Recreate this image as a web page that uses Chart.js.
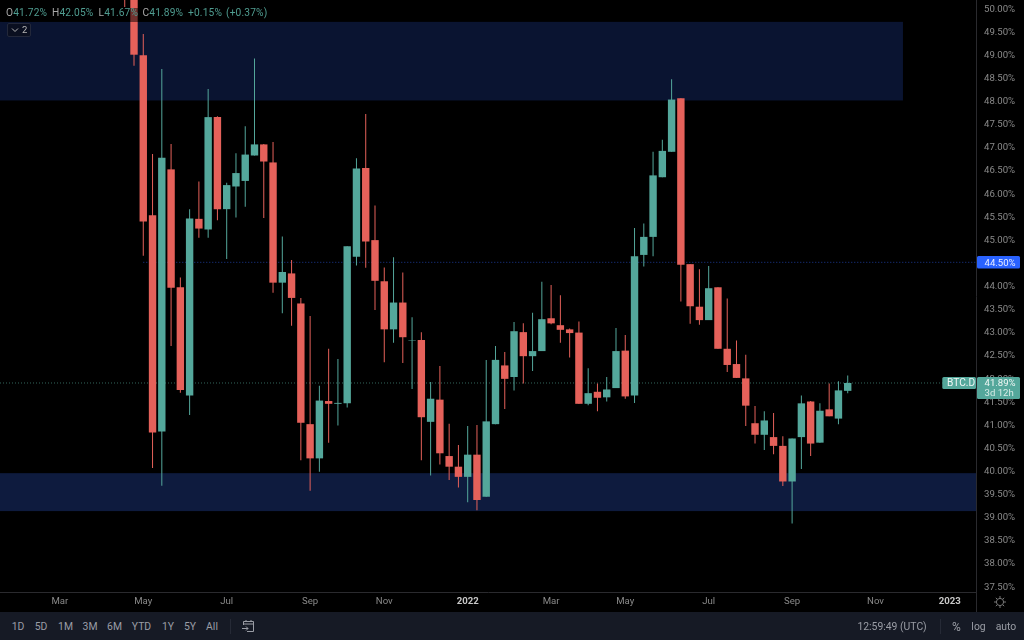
<!DOCTYPE html>
<html>
<head>
<meta charset="utf-8">
<script src="https://cdn.jsdelivr.net/npm/chart.js@4"></script>
<style>
html,body{margin:0;padding:0;background:#000;width:1024px;height:640px;overflow:hidden;font-family:Roboto,sans-serif}
#wrap{position:relative;width:1024px;height:640px}
canvas{position:absolute;left:0;top:0}
.t{position:absolute;white-space:nowrap;line-height:14px}
#legend{position:absolute;left:2px;top:8px;width:268px;height:14px;background:rgba(0,0,0,.5)}
#legend .t{top:-2px;font-size:10.2px;color:#4f9c90;letter-spacing:.15px}
#legend b{font-weight:400;color:#a8a8a8}
#btn{position:absolute;left:7px;top:23px;width:22px;height:12px;border:1px solid #23283a;border-radius:2px;background:#0a0f20;color:#b4b4b4;font-size:9.5px;line-height:12px}
#bar{position:absolute;left:0;top:612px;width:1024px;height:28px;background:#161a25;color:#9a9da5;font-size:10.4px}
#bar .t{top:8px;transform:translateX(-50%)}
.sep{position:absolute;width:1px;background:#262a36}
#vline{position:absolute;left:976px;top:592px;width:1px;height:20px;background:#2a2a2e}
</style>
</head>
<body>
<div id="wrap">
<canvas id="c" width="1024" height="612"></canvas>
<div id="legend">
<span class="t" style="left:4px"><b>O</b>41.72%</span>
<span class="t" style="left:50px"><b>H</b>42.05%</span>
<span class="t" style="left:96.5px"><b>L</b>41.67%</span>
<span class="t" style="left:140.5px"><b>C</b>41.89%</span>
<span class="t" style="left:186px">+0.15%</span>
<span class="t" style="left:224px">(+0.37%)</span>
</div>
<div id="btn"><svg width="8" height="6" style="position:absolute;left:3px;top:3px"><path d="M1 1.5L4 4.5L7 1.5" fill="none" stroke="#b4b4b4" stroke-width="1"/></svg><span style="position:absolute;left:14px;top:0">2</span></div>
<div id="vline"></div>
<svg width="14" height="14" style="position:absolute;left:993px;top:595px"><circle cx="7" cy="7" r="3.6" fill="none" stroke="#777" stroke-width="1"/><path d="M7 1V3M7 11V13M1 7H3M11 7H13M2.8 2.8L4.2 4.2M9.8 9.8L11.2 11.2M2.8 11.2L4.2 9.8M9.8 4.2L11.2 2.8" stroke="#777" stroke-width="1"/></svg>
<div id="bar">
<span class="t" style="left:18px">1D</span>
<span class="t" style="left:41px">5D</span>
<span class="t" style="left:65.5px">1M</span>
<span class="t" style="left:90px">3M</span>
<span class="t" style="left:114.5px">6M</span>
<span class="t" style="left:141.5px">YTD</span>
<span class="t" style="left:168px">1Y</span>
<span class="t" style="left:190px">5Y</span>
<span class="t" style="left:212px">All</span>
<div class="sep" style="left:230px;top:7px;height:15px"></div>
<svg width="14" height="14" style="position:absolute;left:241px;top:7px"><path d="M2.5 6V2.5H12.5V12.5H6M2.5 5H12.5M5 1V3M10 1V3M1 9.5H7M5 7.5L7 9.5L5 11.5" fill="none" stroke="#9a9da5" stroke-width="1"/></svg>
<span class="t" style="left:892px">12:59:49 (UTC)</span>
<div class="sep" style="left:940px;top:7px;height:15px"></div>
<span class="t" style="left:956.5px;font-size:12px">%</span>
<span class="t" style="left:978.5px">log</span>
<span class="t" style="left:1006px">auto</span>
</div>
</div>
<script>
// Weekly BTC dominance candles (percent), oldest first
const highs = [51.5,51.3,49.44,46.84,48.68,47.06,44.17,45.65,46.25,48.25,47.66,46.22,46.86,47.44,48.91,47.06,47.10,45.06,44.55,43.73,43.34,41.83,42.63,42.41,44.85,46.75,47.71,45.73,44.39,44.61,44.28,43.31,42.99,41.91,42.26,41.01,40.55,40.96,40.98,42.39,42.69,42.56,43.21,43.18,43.41,44.08,44.01,43.79,43.07,43.22,42.21,41.88,42.02,43.08,42.93,45.24,45.34,46.89,47.15,48.46,48.05,44.46,44.35,44.42,43.96,43.72,42.81,42.50,41.39,41.28,41.24,40.74,40.69,41.62,41.50,41.45,41.88,41.93,42.05];
const lows = [50.02,48.75,44.64,40.05,39.67,42.69,41.68,41.20,45.03,45.03,45.41,44.57,45.47,45.70,46.81,45.46,43.84,43.40,43.13,40.22,39.56,39.97,40.60,40.97,41.36,44.43,44.38,43.47,42.34,42.76,42.32,41.76,40.22,39.89,40.13,39.79,39.63,39.31,39.14,39.43,41.00,41.33,41.73,41.88,42.15,42.58,43.16,42.76,42.44,41.44,41.41,41.28,41.49,41.78,41.55,41.46,44.41,44.63,46.34,46.89,43.65,43.17,43.15,43.25,42.63,42.13,42.00,40.96,40.58,40.44,40.35,39.66,38.85,40.03,40.31,40.60,41.17,41.00,41.67];
const opens = [51.2,50.9,48.98,45.52,40.84,46.51,43.96,41.62,45.44,45.21,47.64,45.65,46.14,46.26,46.81,47.05,46.66,44.06,44.26,43.61,41.00,40.26,41.50,41.44,41.45,44.62,46.54,44.98,44.09,43.05,43.63,42.80,42.82,41.05,41.53,40.31,40.08,39.86,40.34,39.43,41.00,42.27,42.02,42.99,42.47,42.58,43.29,43.14,43.05,42.98,41.44,41.70,41.58,41.78,42.59,41.62,44.66,45.05,46.34,46.89,48.05,44.46,43.54,43.25,43.96,42.63,42.30,41.99,41.02,40.77,40.72,40.53,39.76,40.72,41.49,40.60,41.32,41.12,41.72];
const closes = [50.3,48.99,45.38,40.82,46.76,43.95,41.74,45.45,45.23,47.64,45.65,46.17,46.43,46.83,47.05,46.68,44.06,44.29,43.73,41.03,40.26,41.51,41.44,41.46,44.85,46.53,44.95,44.10,43.05,43.63,42.88,42.81,41.15,41.55,40.37,40.08,39.86,40.34,39.36,41.06,42.39,41.98,43.01,42.47,42.58,43.27,43.18,43.04,42.97,41.44,41.67,41.57,41.75,42.58,41.60,44.63,45.05,46.38,46.91,48.02,44.45,43.55,43.25,43.94,42.63,42.28,42.00,41.40,40.77,41.08,40.53,39.76,40.69,41.45,40.58,41.29,41.17,41.73,41.89];
const tickLabels = ['Mar','May','Jul','Sep','Nov','2022','Mar','May','Jul','Sep','Nov','2023'];
const tickWeeks = [-7,2,11,20,28,37,46,54,63,72,81,89];
const zoneLows = [48.0,39.12];
const zoneHighs = [49.7,39.94];
const zoneEnds = [83.96,91.84];
const zoneColors = ['#0a1431','#0e1b3e'];
const supportLevel = 44.5;
const supportFrom = 2;
const lastPrice = 41.89;
const xMin = -13.457, xMax = 91.84, yMin = 37.37, yMax = 50.173;

const UP = '#54a79b', DOWN = '#e5615a';
const colors = closes.map((c,i)=> c>=opens[i] ? UP : DOWN);
const bodies = closes.map((c,i)=>({x:i,y:[opens[i],c]}));
const wicks = highs.map((h,i)=>({x:i,y:[lows[i],h]}));

const zonePlugin = {
  id:'zones',
  beforeDatasetsDraw(chart){
    const {ctx,scales:{x,y},chartArea:a}=chart;
    ctx.save();
    zoneLows.forEach((lo,i)=>{
      const top=y.getPixelForValue(zoneHighs[i]), bot=y.getPixelForValue(lo);
      const right=x.getPixelForValue(zoneEnds[i]);
      ctx.fillStyle=zoneColors[i];
      ctx.fillRect(a.left,top,right-a.left,bot-top);
    });
    ctx.restore();
  }
};
const tagPlugin = {
  id:'tags',
  afterDraw(chart){
    const {ctx,scales:{y}}=chart;
    const tag=(x,yy,w,h,col)=>{ctx.fillStyle=col;ctx.beginPath();ctx.roundRect(x,yy,w,h,1.5);ctx.fill();};
    const ys=y.getPixelForValue(supportLevel), yp=y.getPixelForValue(lastPrice);
    ctx.save();
    ctx.textBaseline='middle';
    ctx.font='9.6px Roboto';
    tag(977,ys-6.3,43,12.6,'#2962ff');
    ctx.fillStyle='#e8ecff';ctx.textAlign='left';
    ctx.fillText(supportLevel.toFixed(2)+'%',984.5,ys+.8);
    tag(977,yp-6,43,22,UP);
    tag(942.3,yp-6,33.7,12,UP);
    ctx.fillStyle='#f0f7f5';
    ctx.fillText(lastPrice.toFixed(2)+'%',984.5,yp+.8);
    ctx.font='10.2px Roboto';
    ctx.fillText('BTC.D',947,yp+.8);
    ctx.fillStyle='#d5ebe6';
    ctx.font='9.6px Roboto';
    ctx.fillText('3d 12h',984.5,yp+10.5);
    ctx.restore();
  }
};
const zeroPad = s => { s.paddingTop=0; s.paddingBottom=0; s.paddingLeft=0; s.paddingRight=0; };

new Chart(document.getElementById('c'),{
  type:'bar',
  data:{datasets:[
    {type:'bar',label:'body',data:bodies,backgroundColor:colors,barThickness:7.4,grouped:false,inflateAmount:0,borderWidth:0,order:1},
    {type:'bar',label:'wick',data:wicks,backgroundColor:colors,barThickness:1,grouped:false,inflateAmount:0,borderWidth:0,order:2},
    {type:'line',label:'support',data:[{x:supportFrom,y:supportLevel},{x:xMax,y:supportLevel}],borderColor:'#1c3a94',borderWidth:1,borderDash:[1,2],pointRadius:0,order:3},
    {type:'line',label:'price',data:[{x:xMin,y:lastPrice},{x:xMax,y:lastPrice}],borderColor:'#33665c',borderWidth:1,borderDash:[1,2],pointRadius:0,order:4}
  ]},
  options:{
    responsive:false,animation:false,
    layout:{padding:0},
    plugins:{legend:{display:false},tooltip:{enabled:false}},
    scales:{
      x:{type:'linear',min:xMin,max:xMax,offset:false,
        grid:{display:false,drawTicks:false},
        border:{display:true,color:'#2a2a2e'},
        afterBuildTicks(s){s.ticks=tickWeeks.map(v=>({value:v}));},
        afterFit(s){s.height=20;zeroPad(s);},
        ticks:{autoSkip:false,maxRotation:0,padding:4,
          callback(v,i){return tickLabels[i];},
          color(c){return /^\d/.test(tickLabels[c.index])?'#c8c8c8':'#8a8a8a';},
          font(c){return {family:'Roboto',size:9.6,weight:/^\d/.test(tickLabels[c.index])?'700':'400'};}
        }
      },
      y:{type:'linear',position:'right',min:yMin,max:yMax,
        grid:{display:false,drawTicks:false},
        border:{display:true,color:'#2a2a2e'},
        afterFit(s){s.width=48;zeroPad(s);},
        ticks:{stepSize:.5,includeBounds:false,autoSkip:false,padding:8,align:'center',labelOffset:1.2,
          color:'#8a8a8a',font:{family:'Roboto',size:9.6},
          callback(v){return v.toFixed(2)+'%';}
        }
      }
    }
  },
  plugins:[zonePlugin,tagPlugin]
});
</script>
</body>
</html>
